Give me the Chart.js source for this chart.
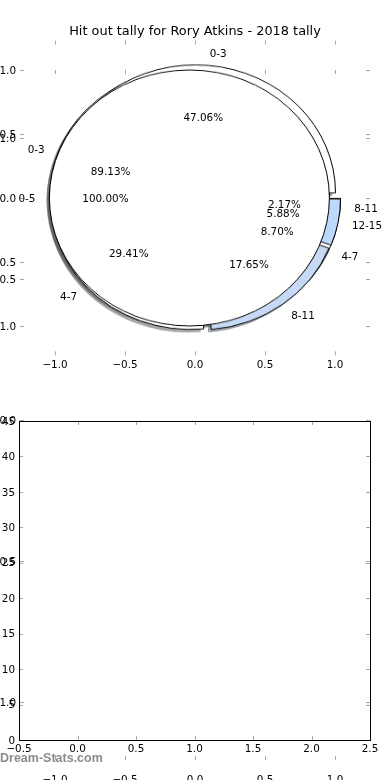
<!DOCTYPE html>
<html>
<head>
<meta charset="utf-8">
<script src="https://cdn.jsdelivr.net/npm/chart.js@4.4.0/dist/chart.umd.min.js"></script>
<style>
  html, body { margin: 0; padding: 0; background: #fff; }
  #page { position: relative; width: 390px; height: 780px; overflow: hidden; }
  canvas { position: absolute; }
  /* pies: flip so angles run counter-clockwise, squash to the axes' y scale */
  .pie { left: 35px; top: 38px; transform: scaleY(-0.9142857); transform-origin: 50% 50%; }
  .shadow { left: 31.5px; top: 41.2px; }
  #mark { position: absolute; left: 0; top: 751px; font: bold 12.5px "Liberation Sans", Arial, sans-serif; color: rgba(120,120,120,0.85); }
</style>
</head>
<body>
<div id="page">
  <canvas id="ghost" width="390" height="800" style="left:0;top:0"></canvas>
  <canvas id="bars" width="390" height="380" style="left:0;top:400px"></canvas>
  <canvas id="shadow2" class="pie shadow" width="320" height="320"></canvas>
  <canvas id="shadow1" class="pie shadow" width="320" height="320"></canvas>
  <canvas id="shadow3" class="pie shadow" width="320" height="320"></canvas>
  <canvas id="pie2" class="pie" width="320" height="320"></canvas>
  <canvas id="pie1" class="pie" width="320" height="320"></canvas>
  <canvas id="pie3" class="pie" width="320" height="320"></canvas>
  <canvas id="pieAxes" width="390" height="400" style="left:0;top:0"></canvas>
  <div id="mark">Dream-Stats.com</div>
</div>
<script>
const TITLE = 'Hit out tally for Rory Atkins - 2018 tally';

const pie1Labels = ['0-3', '4-7', '8-11', '12-15'];
const pie1Values = [8, 5, 3, 1];
const pie1Colors = ['#ffffff', '#ffffff', '#c6daf5', '#bcd8fc'];

const pie2Labels = ['0-3', '4-7', '8-11'];
const pie2Values = [41, 4, 1];
const pie2Colors = ['#ffffff', '#ffffff', '#ffffff'];

const pie3Labels = ['0-5'];
const pie3Values = [1];
const pie3Colors = ['#ffffff'];

const pieTicks = [-1.0, -0.5, 0.0, 0.5, 1.0];
const barXTicks = [-0.5, 0.0, 0.5, 1.0, 1.5, 2.0, 2.5];
const barYTicks = [0, 5, 10, 15, 20, 25, 30, 35, 40, 45];

const EXPLODE = 0.04;       // in pie radius units
const RADIUS_PX = 140;
const FONT = 'DejaVu Sans';

Chart.defaults.font.family = FONT;
Chart.defaults.font.size = 10.4;
Chart.defaults.color = '#000';

const fmt1 = v => v.toFixed(1).replace('-', '\u2212');

// matplotlib-style inward tick marks on all four sides, optional frame
const tickMarks = {
  id: 'tickMarks',
  afterDraw(chart, args, opts) {
    const { ctx, chartArea: a, scales: { x, y } } = chart;
    ctx.save();
    ctx.strokeStyle = '#a8a8a8';
    ctx.lineWidth = 1;
    ctx.beginPath();
    x.ticks.forEach(t => {
      const px = Math.round(x.getPixelForValue(t.value)) + 0.5;
      ctx.moveTo(px, a.top); ctx.lineTo(px, a.top + 4);
      ctx.moveTo(px, a.bottom); ctx.lineTo(px, a.bottom - 4);
    });
    y.ticks.forEach(t => {
      const py = Math.round(y.getPixelForValue(t.value)) + 0.5;
      ctx.moveTo(a.left, py); ctx.lineTo(a.left + 4, py);
      ctx.moveTo(a.right, py); ctx.lineTo(a.right - 4, py);
    });
    ctx.stroke();
    if (opts.frame) {
      ctx.strokeStyle = '#000';
      ctx.strokeRect(Math.round(a.left) + 0.5, Math.round(a.top) + 0.5,
        Math.round(a.right - a.left), Math.round(a.bottom - a.top));
    }
    ctx.restore();
  }
};

function axis(min, max, values, size, pad, cb) {
  return {
    type: 'linear', min, max,
    afterBuildTicks: s => { s.ticks = values.map(v => ({ value: v })); },
    afterFit: s => { if (s.isHorizontal()) s.height = size; else s.width = size; },
    grid: { display: false, drawTicks: false },
    border: { display: false },
    ticks: { padding: pad, labelOffset: size < 30 ? 1 : 0, autoSkip: false, maxRotation: 0, callback: cb }
  };
}

function emptyAxes(id, xr, yr, framed, padding, extra) {
  return new Chart(document.getElementById(id), {
    type: 'scatter',
    data: { datasets: [] },
    plugins: [tickMarks].concat(extra || []),
    options: {
      responsive: false,
      animation: false,
      events: [],
      layout: { padding },
      scales: { x: xr, y: yr },
      plugins: { legend: { display: false }, tooltip: { enabled: false }, tickMarks: { frame: framed } }
    }
  });
}

// ghost axes that spans most of the figure height
emptyAxes('ghost',
  axis(-1.25, 1.25, pieTicks, 40, 14, fmt1),
  axis(-1.206, 1.241, pieTicks, 20, 4, fmt1),
  false, { top: 70, right: 20, left: 0, bottom: 0 });

// lower empty axes
emptyAxes('bars',
  axis(-0.5, 2.5, barXTicks, 40, 3, fmt1),
  axis(0, 45, barYTicks, 19, 4, v => String(v)),
  true, { top: 21, right: 20, left: 0, bottom: 0 });

// pies
const explode = {
  id: 'explode',
  beforeDatasetsDraw(chart, args, opts) {
    const ctx = chart.ctx;
    chart.getDatasetMeta(0).data.forEach(arc => {
      const mid = (arc.startAngle + arc.endAngle) / 2;
      ctx.save();
      ctx.translate(Math.cos(mid) * opts.px, Math.sin(mid) * opts.px);
      arc.draw(ctx);
      if (opts.ring && arc.circumference >= 2 * Math.PI - 1e-6) {
        ctx.beginPath();
        ctx.arc(arc.x, arc.y, arc.outerRadius, 0, 2 * Math.PI);
        ctx.strokeStyle = '#000';
        ctx.lineWidth = 1;
        ctx.stroke();
      }
      ctx.restore();
    });
    return false;
  }
};

function shadowOf(hex) {
  const n = parseInt(hex.slice(1), 16);
  const r = Math.round(((n >> 16) & 255) * 0.3), g = Math.round(((n >> 8) & 255) * 0.3), b = Math.round((n & 255) * 0.3);
  return `rgba(${r},${g},${b},0.5)`;
}

function makePie(id, labels, values, colors, shadow) {
  const full = values.length === 1;
  return new Chart(document.getElementById(id), {
    type: 'pie',
    data: {
      labels,
      datasets: [{
        data: values,
        backgroundColor: shadow ? colors.map(shadowOf) : colors,
        borderColor: '#000',
        borderWidth: shadow || full ? 0 : 1
      }]
    },
    plugins: [explode],
    options: {
      responsive: false,
      animation: false,
      events: [],
      rotation: 90,
      radius: RADIUS_PX,
      layout: { padding: 0 },
      plugins: { legend: { display: false }, tooltip: { enabled: false }, explode: { px: EXPLODE * RADIUS_PX, ring: !shadow && full } }
    }
  });
}

makePie('shadow2', pie2Labels, pie2Values, pie2Colors, true);
makePie('shadow1', pie1Labels, pie1Values, pie1Colors, true);
makePie('shadow3', pie3Labels, pie3Values, pie3Colors, true);
makePie('pie2', pie2Labels, pie2Values, pie2Colors, false);
makePie('pie1', pie1Labels, pie1Values, pie1Colors, false);
makePie('pie3', pie3Labels, pie3Values, pie3Colors, false);

// labels and percentages, placed in the pie axes' data coordinates
function slices(labels, values) {
  const total = values.reduce((a, b) => a + b, 0);
  let start = 0;
  return values.map((v, i) => {
    const frac = v / total;
    const mid = (start + frac / 2) * 2 * Math.PI;
    start += frac;
    return { label: labels[i], pct: (frac * 100).toFixed(2) + '%', angle: mid };
  });
}
const allSlices = [].concat(slices(pie1Labels, pie1Values), slices(pie2Labels, pie2Values), slices(pie3Labels, pie3Values));

const pieText = {
  id: 'pieText',
  afterDraw(chart) {
    const { ctx, chartArea: a, scales: { x, y } } = chart;
    ctx.save();
    ctx.fillStyle = '#000';
    ctx.font = '12.9px "' + FONT + '"';
    ctx.textAlign = 'center';
    ctx.textBaseline = 'alphabetic';
    ctx.fillText(TITLE, (a.left + a.right) / 2, 35);
    ctx.font = '10.4px "' + FONT + '"';
    ctx.textBaseline = 'middle';
    allSlices.forEach(s => {
      const c = Math.cos(s.angle), sn = Math.sin(s.angle);
      const r1 = 1.1 + EXPLODE, r2 = 0.6 + EXPLODE;
      ctx.textAlign = c * r1 > 0 ? 'left' : 'right';
      ctx.fillText(s.label, x.getPixelForValue(c * r1), y.getPixelForValue(sn * r1) + 1.5);
      ctx.textAlign = 'center';
      ctx.fillText(s.pct, x.getPixelForValue(c * r2), y.getPixelForValue(sn * r2) + 1.5);
    });
    ctx.restore();
  }
};

emptyAxes('pieAxes',
  axis(-1.25, 1.25, pieTicks, 400 - 355.4, 4, fmt1),
  axis(-1.23, 1.23, pieTicks, 20, 4, fmt1),
  false, { top: 40.6, right: 20, left: 0, bottom: 0 }, [pieText]);
</script>
</body>
</html>
